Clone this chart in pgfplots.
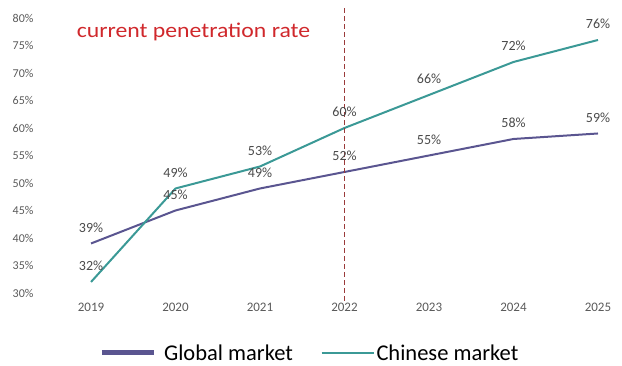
\documentclass[border=0pt]{standalone}
\usepackage{pgfplots}
\pgfplotsset{compat=1.18}
\usepackage{fontspec}
\setmainfont{Carlito}
\definecolor{glob}{HTML}{5A5590}
\definecolor{chin}{HTML}{3B9996}
\definecolor{lbl}{HTML}{4A4A4A}
\definecolor{tickc}{HTML}{5A5A5A}
\definecolor{ttl}{HTML}{D0282C}
\definecolor{dashc}{HTML}{9A3A3A}
\begin{document}
\begin{tikzpicture}
\begin{axis}[
  x=84.5pt, y=5.5pt,
  xmin=2018.361, xmax=2025.284, ymin=30, ymax=80,
  axis line style={draw=none}, tick style={draw=none},
  xtick={2019,...,2025}, ytick={30,35,...,80},
  /pgf/number format/assume math mode=true,
  /pgf/number format/1000 sep={},
  yticklabel={\pgfmathprintnumber{\tick}\%},
  yticklabel style={font=\fontsize{12}{13}\selectfont, text=tickc},
  xticklabel style={font=\fontsize{13}{14}\selectfont, text=tickc, yshift=-7pt},
  clip=false,
  legend columns=2,
  legend style={draw=none, fill=none, at={(axis cs:2021.59,19.09)}, anchor=center,
    font=\fontsize{22.5}{24}\selectfont, /tikz/every even column/.append style={column sep=26pt}},
  nodes near coords={\pgfmathprintnumber{\pgfplotspointmeta}\%},
  every node near coord/.append style={font=\fontsize{14}{15}\selectfont, text=lbl, anchor=south, yshift=7pt},
]
\addplot[glob, line width=2pt, forget plot] coordinates {(2019,39) (2020,45) (2021,49) (2022,52) (2023,55) (2024,58) (2025,59)};
\addplot[chin, line width=2pt, forget plot] coordinates {(2019,32) (2020,49) (2021,53) (2022,60) (2023,66) (2024,72) (2025,76)};
\addlegendimage{legend image code/.code={\draw[glob, line width=5pt] (0pt,0pt) -- (52pt,0pt); \path (60pt,0pt);}}
\addlegendentry{Global market}
\addlegendimage{legend image code/.code={\draw[chin, line width=1.6pt] (0pt,0pt) -- (52pt,0pt);}}
\addlegendentry{Chinese market}
\draw[dashc, dash pattern=on 5pt off 3pt, line width=1.3pt] (axis cs:2022,81.8) -- (axis cs:2022,28.3);
\node[anchor=west, text=ttl, font=\fontsize{21}{23}\selectfont] at (axis cs:2018.79,77.45) {\scalebox{1.13}[1]{current penetration rate}};
\coordinate (BBa) at (axis cs:2017.923,16.73);
\coordinate (BBb) at (axis cs:2025.284,83.27);
\end{axis}
\pgfresetboundingbox
\useasboundingbox (BBa) rectangle (BBb);
\end{tikzpicture}
\end{document}
